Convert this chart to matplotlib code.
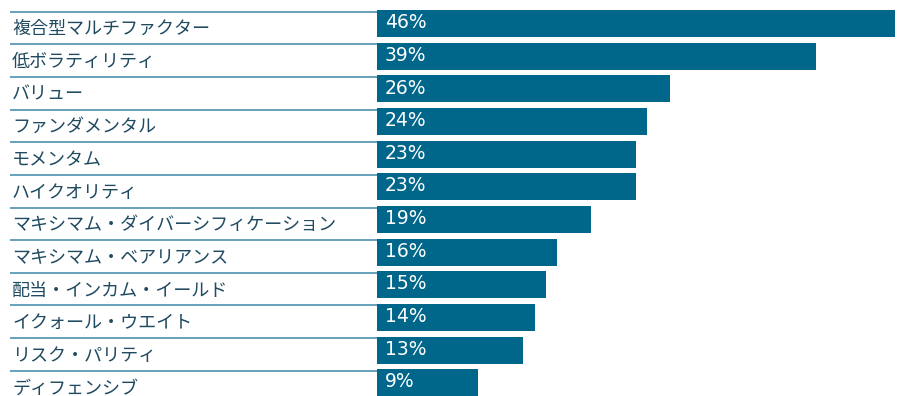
import matplotlib
matplotlib.use("Agg")
import matplotlib.pyplot as plt

plt.rcParams['font.family'] = ['Noto Sans CJK JP', 'DejaVu Sans']

categories = [
    "複合型マルチファクター", "低ボラティリティ", "バリュー", "ファンダメンタル",
    "モメンタム", "ハイクオリティ", "マキシマム・ダイバーシフィケーション",
    "マキシマム・ベアリアンス", "配当・インカム・イールド", "イクォール・ウエイト",
    "リスク・パリティ", "ディフェンシブ",
]
values = [46, 39, 26, 24, 23, 23, 19, 16, 15, 14, 13, 9]

BAR = "#00668a"
TEXT = "#1f4a60"
LINE = "#3f86a8"

W, H = 899, 396
x0_px, px_per_pct = 377, 11.26      # bar origin and scale in pixels
top_px, pitch = 10, 32.65           # first row top and row pitch

fig = plt.figure(figsize=(W / 100, H / 100), dpi=100)
ax = fig.add_axes([0, 0, 1, 1])
ax.set_xlim(-x0_px / px_per_pct, (W - x0_px) / px_per_pct)
ax.set_ylim((H - top_px) / pitch, -top_px / pitch)
ax.axis("off")

rows = list(range(len(values)))
ax.barh(rows, values, height=27 / pitch, align="edge", color=BAR, zorder=2)
left = -(x0_px - 10) / px_per_pct
ax.hlines([r + 0.05 for r in rows], left, 0.3, color=LINE, lw=1.1, zorder=1)

for r, (cat, v) in enumerate(zip(categories, values)):
    ax.text(left + 2 / px_per_pct, r + 0.59, cat, va="center", ha="left",
            fontsize=13, color=TEXT)
    ax.text(8 / px_per_pct, r + 0.39, f"{v}%", va="center", ha="left",
            fontsize=13.5, color="white", zorder=3, family="DejaVu Sans")

fig.savefig("out.png", dpi=100)
